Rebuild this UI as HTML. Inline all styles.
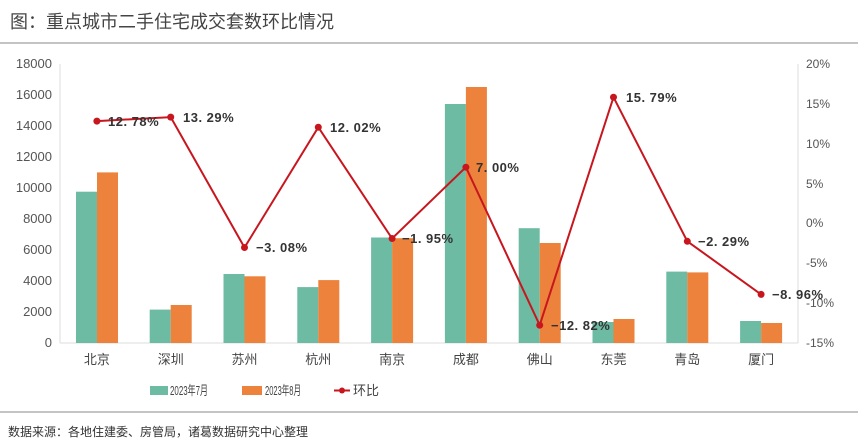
<!DOCTYPE html>
<html><head><meta charset="utf-8"><style>
body{margin:0;background:#fff;}
svg{display:block;font-family:"Liberation Sans","Noto Sans CJK SC",sans-serif;}
</style></head><body>
<svg width="858" height="443" viewBox="0 0 858 443">
<text x="10" y="28" font-size="18" fill="#444">图：重点城市二手住宅成交套数环比情况</text>
<line x1="0" y1="43" x2="858" y2="43" stroke="#888" stroke-width="1"/>
<g font-size="13" fill="#555" text-anchor="end">
<text x="52" y="68">18000</text><text x="52" y="99">16000</text><text x="52" y="130">14000</text>
<text x="52" y="161">12000</text><text x="52" y="192">10000</text><text x="52" y="223">8000</text>
<text x="52" y="254">6000</text><text x="52" y="285">4000</text><text x="52" y="316">2000</text>
<text x="52" y="347">0</text>
</g>
<g font-size="12" fill="#555">
<text x="806" y="68">20%</text><text x="806" y="108">15%</text><text x="806" y="148">10%</text>
<text x="806" y="188">5%</text><text x="806" y="227">0%</text><text x="806" y="267">-5%</text>
<text x="806" y="307">-10%</text><text x="806" y="347">-15%</text>
</g>
<line x1="60" y1="64" x2="60" y2="343" stroke="#ddd"/>
<line x1="798" y1="64" x2="798" y2="343" stroke="#ddd"/>
<line x1="60" y1="343" x2="798" y2="343" stroke="#ddd"/>
<g fill="#6dbba3">
<rect x="76" y="191.7" width="21" height="151.3"/>
<rect x="149.7" y="309.6" width="21" height="33.4"/>
<rect x="223.5" y="274" width="21" height="69"/>
<rect x="297.3" y="287.1" width="21" height="55.9"/>
<rect x="371.1" y="237.5" width="21" height="105.5"/>
<rect x="444.9" y="104" width="21" height="239"/>
<rect x="518.7" y="228.2" width="21" height="114.8"/>
<rect x="592.5" y="322" width="21" height="21"/>
<rect x="666.3" y="271.6" width="21" height="71.4"/>
<rect x="740.1" y="321" width="21" height="22"/>
</g>
<g fill="#ec823b">
<rect x="97" y="172.4" width="21" height="170.6"/>
<rect x="170.7" y="305" width="21" height="38"/>
<rect x="244.5" y="276.3" width="21" height="66.7"/>
<rect x="318.3" y="280.1" width="21" height="62.9"/>
<rect x="392.1" y="238.2" width="21" height="104.8"/>
<rect x="465.9" y="87" width="21" height="256"/>
<rect x="539.7" y="243" width="21" height="100"/>
<rect x="613.5" y="319" width="21" height="24"/>
<rect x="687.3" y="272.4" width="21" height="70.6"/>
<rect x="761.1" y="323" width="21" height="20"/>
</g>
<polyline fill="none" stroke="#c8161e" stroke-width="2" points="96.9,121.1 170.7,117.1 244.5,247.5 318.3,127.2 392.1,238.5 465.9,167.2 539.7,325.2 613.5,97.2 687.3,241.3 761.1,294.4"/>
<g fill="#c8161e">
<circle cx="96.9" cy="121.1" r="3.5"/><circle cx="170.7" cy="117.1" r="3.5"/><circle cx="244.5" cy="247.5" r="3.5"/>
<circle cx="318.3" cy="127.2" r="3.5"/><circle cx="392.1" cy="238.5" r="3.5"/><circle cx="465.9" cy="167.2" r="3.5"/>
<circle cx="539.7" cy="325.2" r="3.5"/><circle cx="613.5" cy="97.2" r="3.5"/><circle cx="687.3" cy="241.3" r="3.5"/>
<circle cx="761.1" cy="294.4" r="3.5"/>
</g>
<g font-size="13" font-weight="bold" fill="#333" letter-spacing="0.5">
<text x="108" y="126">12. 78%</text>
<text x="183" y="122">13. 29%</text>
<text x="256" y="252">−3. 08%</text>
<text x="330" y="132">12. 02%</text>
<text x="402" y="243">−1. 95%</text>
<text x="476" y="172">7. 00%</text>
<text x="551" y="330">−12. 82%</text>
<text x="626" y="102">15. 79%</text>
<text x="698" y="246">−2. 29%</text>
<text x="772" y="299">−8. 96%</text>
</g>
<g font-size="13" fill="#444" text-anchor="middle">
<text x="96.9" y="364">北京</text><text x="170.7" y="364">深圳</text><text x="244.5" y="364">苏州</text>
<text x="318.3" y="364">杭州</text><text x="392.1" y="364">南京</text><text x="465.9" y="364">成都</text>
<text x="539.7" y="364">佛山</text><text x="613.5" y="364">东莞</text><text x="687.3" y="364">青岛</text>
<text x="761.1" y="364">厦门</text>
</g>
<rect x="150" y="386" width="18" height="9" fill="#6dbba3"/>
<text x="170" y="395" font-size="13" fill="#444" textLength="38" lengthAdjust="spacingAndGlyphs">2023年7月</text>
<rect x="242" y="386" width="20" height="9" fill="#ec823b"/>
<text x="265" y="395" font-size="13" fill="#444" textLength="36" lengthAdjust="spacingAndGlyphs">2023年8月</text>
<line x1="334" y1="390.5" x2="350" y2="390.5" stroke="#c8161e" stroke-width="2"/>
<circle cx="342" cy="390.5" r="3" fill="#c8161e"/>
<text x="353" y="395" font-size="13" fill="#444">环比</text>
<line x1="0" y1="412" x2="858" y2="412" stroke="#888" stroke-width="1"/>
<text x="8" y="436" font-size="12" fill="#333">数据来源：各地住建委、房管局，诸葛数据研究中心整理</text>
</svg>
</body></html>
